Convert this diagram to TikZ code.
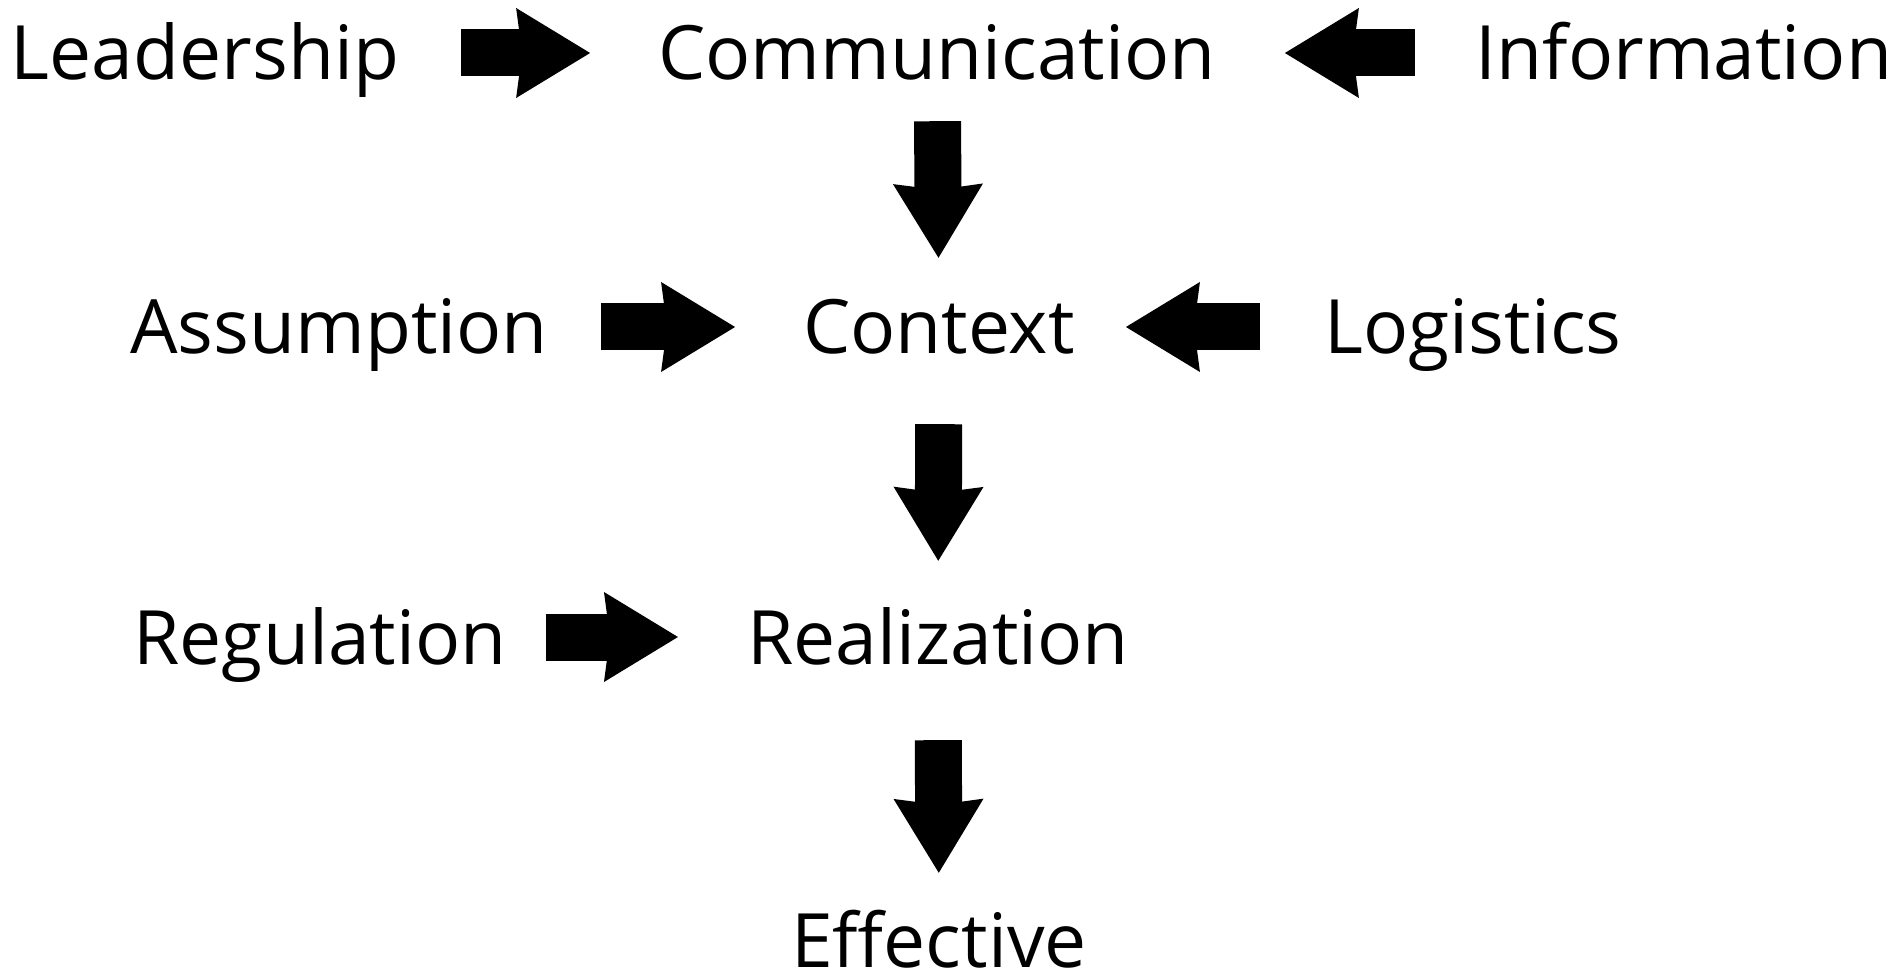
\documentclass[tikz,border=0pt]{standalone}
\usepackage{fontspec}
\setmainfont{Open Sans}
\usetikzlibrary{arrows.meta}

\tikzset{
  term/.style={inner sep=0pt, text height=54pt, text depth=0pt,
    font=\fontsize{75}{90}\selectfont},
  flow/.style={line width=47pt,
    -{Stealth[length=74pt, width=90pt, inset=6pt, line width=0pt]}},
}

\begin{document}
\begin{tikzpicture}[x=1pt, y=-1pt]
    \useasboundingbox (0,0) rectangle (1901,973);
    \node[term] (lead) at (205,53) {Leadership};
    \node[term] (comm) at (937,53) {Communication};
    \node[term] (info) at (1684,53) {Information};
    \node[term] (assu) at (339,327) {Assumption};
    \node[term] (ctx) at (939,327) {Context};
    \node[term] (logi) at (1473,327) {Logistics};
    \node[term] (regu) at (320,637) {Regulation};
    \node[term] (real) at (938,637) {Realization};
    \node[term] (eff) at (939,940) {Effective};
    \draw[flow, shorten <=62pt, shorten >=68pt] (lead) -- (comm);
    \draw[flow, shorten <=61pt, shorten >=69pt] (info) -- (comm);
    \draw[flow, shorten <=41pt, shorten >=42pt] (comm) -- (ctx);
    \draw[flow, shorten <=53pt, shorten >=68pt] (assu) -- (ctx);
    \draw[flow, shorten <=64pt, shorten >=51pt] (logi) -- (ctx);
    \draw[flow, shorten <=70pt, shorten >=49pt] (ctx) -- (real);
    \draw[flow, shorten <=39pt, shorten >=69pt] (regu) -- (real);
    \draw[flow, shorten <=76pt, shorten >=40pt] (real) -- (eff);
  \end{tikzpicture}
\end{document}
